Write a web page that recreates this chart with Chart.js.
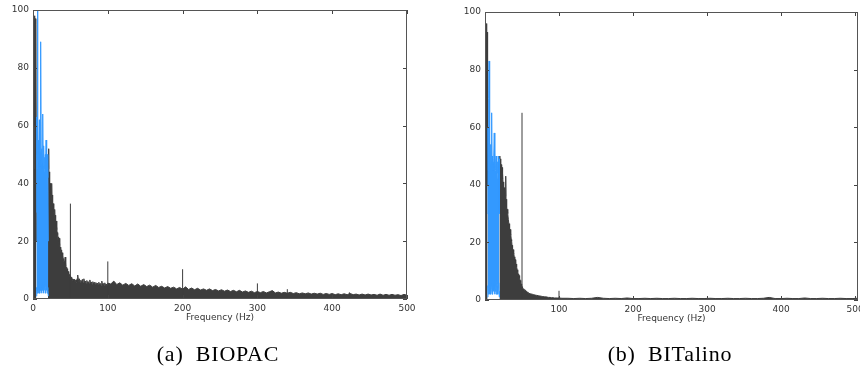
<!DOCTYPE html>
<html>
<head>
<meta charset="utf-8">
<script src="https://cdn.jsdelivr.net/npm/chart.js@4.4.1/dist/chart.umd.min.js"></script>
<style>
  body { margin: 0; background: #fff; }
  #wrap { position: relative; width: 860px; height: 371px; overflow: hidden; }
  canvas { position: absolute; top: 0; }
  .cap {
    position: absolute; top: 343px; width: 200px; text-align: center;
    font-family: "Liberation Serif", serif; font-size: 22px; line-height: 22px;
    letter-spacing: 0.8px; word-spacing: 6px; color: #000; white-space: nowrap;
  }
</style>
</head>
<body>
<div id="wrap">
  <canvas id="bio" width="430" height="371" style="left:0"></canvas>
  <canvas id="bit" width="430" height="371" style="left:430px"></canvas>
  <div class="cap" style="left:118px">(a) BIOPAC</div>
  <div class="cap" style="left:570px">(b) BITalino</div>
</div>
<script>
/* BIOPAC spectrum (a) */

// dark trace 0 - 4.5 Hz, step 0.5
const bioDarkA = [35, 34, 97, 45, 98, 60, 97, 50, 95, 20];
// blue band 4.5 - 20.5 Hz, step 0.5
const bioBlueHigh = [30, 63, 45, 100, 48, 55, 47, 50, 62, 46, 51, 48, 89, 47, 52, 45, 50,
  64, 46, 50, 53, 44, 49, 45, 50, 47, 55, 44, 48, 50, 42, 46, 20];
const bioBlueLow = [1, 4, 2, 5, 3, 6, 2, 4, 5, 2, 4, 6, 3, 5, 2, 4, 6,
  3, 5, 2, 4, 7, 3, 5, 2, 4, 6, 3, 5, 2, 4, 3, 1];
// dark trace 20 - 59.5 Hz, step 0.5
const bioDarkB = [30, 45, 52, 38, 44, 37, 40, 36, 38, 35, 40, 33, 36, 31, 33, 30, 31, 28, 31, 27,
  29, 25, 27, 24, 25, 22, 23, 20, 21.5, 19.5, 21, 18.5, 19, 17, 18, 16, 17, 15, 16, 14,
  15, 13, 14, 12.5, 13, 12, 14.5, 11.5, 12, 10.5, 11, 10, 10.5, 9, 9.5, 8.5, 9, 8, 8.5, 7.5,
  8, 7, 7.5, 6.8, 7.2, 6.5, 7, 6.3, 6.8, 6.2, 6.8, 6, 6.6, 6, 6.5, 5.8, 6.6, 5.9, 7, 6.2];
// dark trace 60 - 100 Hz, step 1
const bioDarkB2 = [8.3, 6, 7, 5.8, 6.5, 5.6, 6.8, 5.5, 7, 5.6, 6.2, 5.4, 6.4, 5.3, 6, 5.4, 6.6, 5.2, 5.9, 5.1,
  6, 5.2, 5.8, 5, 5.7, 5, 5.5, 4.9, 5.8, 4.8, 5.4, 4.8, 6.2, 4.7, 5.4, 4.8, 5.6, 4.6, 5.2, 4.7, 5.5];
// dark trace 104 - 500 Hz, step 4
const bioDarkC = [5.2, 6.2, 5, 5.6, 4.8, 5.4, 4.7, 5.3, 4.5, 5.2, 4.4, 5, 4.3, 4.8, 4.1, 4.7, 4, 4.4, 3.8, 4.3,
  3.7, 4.1, 3.5, 4, 3.4, 4.2, 3.3, 3.8, 3.2, 3.7, 3.1, 3.5, 3, 3.5, 2.9, 3.3, 2.8, 3.2, 2.7, 3.1,
  2.6, 3, 2.5, 3, 2.4, 2.8, 2.3, 2.7, 2.2, 2.6, 2.2, 2.6, 2.1, 2.5, 2.9, 2.1, 2.4, 2, 2.3, 2,
  2.3, 1.9, 2.2, 1.8, 2.1, 1.8, 2.1, 1.7, 2, 1.7, 2, 1.6, 1.9, 1.6, 1.9, 1.5, 1.8, 1.5, 1.8, 1.5,
  1.9, 1.5, 1.7, 1.4, 1.7, 1.4, 1.7, 1.4, 1.6, 1.3, 1.7, 1.3, 1.6, 1.3, 1.6, 1.3, 1.5, 1.2, 1.6, 1.3];
// narrow line peaks
const bioSpikeFreq = [50, 100, 200, 300, 340, 423];
const bioSpikeVal = [33, 13, 10.3, 5.4, 3.4, 2.3];

/* BITalino spectrum (b) */

// dark trace 0 - 3.5 Hz, step 0.5
const bitDarkA = [67, 90, 96, 85, 96, 70, 93, 40];
// blue band 3.5 - 19.5 Hz, step 0.5
const bitBlueHigh = [30, 60, 45, 70, 83, 48, 55, 47, 54, 46, 50, 65, 47, 50, 45, 48, 46,
  49, 58, 46, 49, 45, 48, 50, 44, 47, 42, 48, 44, 50, 47, 49, 30];
const bitBlueLow = [1, 5, 2, 4, 6, 2, 5, 3, 7, 2, 4, 6, 3, 5, 2, 6, 3,
  4, 7, 2, 5, 3, 6, 2, 4, 7, 3, 5, 2, 4, 6, 3, 1];
// dark trace 19.5 - 60 Hz, step 0.5
const bitDarkB = [46, 50, 47, 49, 45, 47, 44, 46, 42, 44, 40, 41, 38, 39, 37, 38, 36, 43, 34, 35,
  32, 31.5, 30, 30, 28, 28, 26, 26.5, 24, 24.5, 22.5, 23, 21, 20.5, 19, 19, 17.5, 17.5, 16, 16.5,
  15, 14.5, 13.5, 14, 12.5, 12.5, 11.5, 11.5, 10.5, 10, 9.5, 9, 8.5, 8.5, 7.5, 7.5, 6.8, 6.5, 6, 5.5,
  5, 4.6, 4.3, 4.2, 3.9, 3.8, 3.6, 3.6, 3.4, 3.4, 3.3, 3.1, 3, 3, 2.8, 2.8, 2.6, 2.7, 2.5, 2.5,
  2.3, 2.3];
// dark trace 62 - 100 Hz, step 2
const bitDarkB2 = [2.1, 2, 1.8, 1.7, 1.6, 1.5, 1.4, 1.3, 1.2, 1.1, 1.1, 1, 0.9, 0.9, 0.8, 0.8, 0.7, 0.7, 0.7, 0.7];
// dark trace 104 - 504 Hz, step 8
const bitDarkC = [0.6, 0.6, 0.5, 0.6, 0.5, 0.6, 0.9, 0.6, 0.5, 0.6, 0.5, 0.7, 0.5, 0.5, 0.6, 0.5, 0.6,
  0.5, 0.5, 0.6, 0.5, 0.5, 0.6, 0.5, 0.5, 0.6, 0.5, 0.5, 0.6, 0.5, 0.5, 0.6, 0.5, 0.5, 0.6,
  0.9, 0.5, 0.5, 0.6, 0.5, 0.5, 0.7, 0.5, 0.5, 0.6, 0.5, 0.5, 0.6, 0.5, 0.5, 0.6];
const bitSpikeFreq = [50, 100];
const bitSpikeVal = [65, 3.2];

const yTicks = [0, 20, 40, 60, 80, 100];
const bioXTicks = [0, 100, 200, 300, 400, 500];
const bitXTicks = [100, 200, 300, 400, 500];

const DARK = '#3d3d3d';
const BLUE = '#3399ff';
const tickFont = { family: 'DejaVu Sans', size: 9 };

// sampled values on an even frequency grid -> {x, y} points
function pts(start, step, values) {
  return values.map((v, i) => ({ x: start + i * step, y: v }));
}

// vertical line peaks, separated by gaps
function spikes(freqs, vals) {
  const out = [];
  freqs.forEach((f, i) => {
    out.push({ x: f, y: 0 }, { x: f, y: vals[i] }, { x: f, y: null });
  });
  return out;
}

// frame and inward tick marks like the original figure
const framePlugin = {
  id: 'frame',
  afterDraw(chart) {
    const { ctx, chartArea: a, scales: { x, y } } = chart;
    ctx.save();
    ctx.strokeStyle = '#444';
    ctx.lineWidth = 1;
    ctx.beginPath();
    x.ticks.forEach(function (t) {
      const px = Math.round(x.getPixelForValue(t.value)) + 0.5;
      ctx.moveTo(px, a.bottom); ctx.lineTo(px, a.bottom - 4);
      ctx.moveTo(px, a.top); ctx.lineTo(px, a.top + 4);
    });
    y.ticks.forEach(function (t) {
      const py = Math.round(y.getPixelForValue(t.value)) + 0.5;
      ctx.moveTo(a.left, py); ctx.lineTo(a.left + 4, py);
      ctx.moveTo(a.right, py); ctx.lineTo(a.right - 4, py);
    });
    ctx.stroke();
    ctx.strokeStyle = '#555';
    ctx.strokeRect(Math.round(a.left) + 0.5, Math.round(a.top) + 0.5,
      Math.round(a.right - a.left) - 1, Math.round(a.bottom - a.top) - 1);
    ctx.restore();
  }
};

function makeChart(id, cfg) {
  const darkData = pts(0, 0.5, cfg.darkA)
    .concat([{ x: 10, y: null }])
    .concat(pts(cfg.bStart, 0.5, cfg.darkB))
    .concat(pts(cfg.b2Start, cfg.b2Step, cfg.darkB2))
    .concat(pts(cfg.cStart, cfg.cStep, cfg.darkC));

  return new Chart(document.getElementById(id), {
    type: 'line',
    data: {
      datasets: [
        {
          data: pts(cfg.blueStart, 0.5, cfg.blueHigh),
          borderColor: BLUE, backgroundColor: BLUE, borderWidth: 1,
          fill: '+1', order: 0
        },
        {
          data: pts(cfg.blueStart, 0.5, cfg.blueLow),
          borderColor: BLUE, borderWidth: 1, fill: false, order: 0
        },
        {
          data: spikes(cfg.spikeFreq, cfg.spikeVal),
          borderColor: DARK, borderWidth: 1, fill: false, order: 1
        },
        {
          data: darkData,
          borderColor: DARK, backgroundColor: DARK, borderWidth: 1,
          fill: 'origin', order: 2
        }
      ]
    },
    options: {
      responsive: false,
      animation: false,
      events: [],
      elements: { point: { radius: 0 }, line: { tension: 0 } },
      layout: { autoPadding: false, padding: cfg.padding },
      plugins: { legend: { display: false }, tooltip: { enabled: false } },
      scales: {
        x: {
          type: 'linear', min: 0, max: cfg.xMax,
          grid: { display: false, drawTicks: false },
          border: { display: false },
          afterBuildTicks: function (s) { s.ticks = cfg.xTicks.map(v => ({ value: v })); },
          afterFit: function (s) { s.height = 24; s.paddingLeft = 0; s.paddingRight = 0; },
          ticks: { font: tickFont, color: '#333', padding: 4, maxRotation: 0, autoSkip: false },
          title: { display: true, text: 'Frequency (Hz)', font: tickFont, color: '#333', padding: 0 }
        },
        y: {
          min: 0, max: 100,
          grid: { display: false, drawTicks: false },
          border: { display: false },
          afterBuildTicks: function (s) { s.ticks = yTicks.map(v => ({ value: v })); },
          afterFit: function (s) { s.width = cfg.yWidth; s.paddingTop = 0; s.paddingBottom = 0; },
          ticks: { font: tickFont, color: '#333', padding: 4 }
        }
      }
    },
    plugins: [framePlugin]
  });
}

makeChart('bio', {
  darkA: bioDarkA, darkB: bioDarkB, darkB2: bioDarkB2, darkC: bioDarkC,
  bStart: 20, b2Start: 60, b2Step: 1, cStart: 104, cStep: 4,
  blueStart: 4.5, blueHigh: bioBlueHigh, blueLow: bioBlueLow,
  spikeFreq: bioSpikeFreq, spikeVal: bioSpikeVal,
  xMax: 500, xTicks: bioXTicks, yWidth: 33,
  padding: { left: 0, right: 23, top: 10, bottom: 48 }
});

makeChart('bit', {
  darkA: bitDarkA, darkB: bitDarkB, darkB2: bitDarkB2, darkC: bitDarkC,
  bStart: 19.5, b2Start: 62, b2Step: 2, cStart: 104, cStep: 8,
  blueStart: 3.5, blueHigh: bitBlueHigh, blueLow: bitBlueLow,
  spikeFreq: bitSpikeFreq, spikeVal: bitSpikeVal,
  xMax: 504, xTicks: bitXTicks, yWidth: 55,
  padding: { left: 0, right: 2, top: 12, bottom: 47 }
});
</script>
</body>
</html>
